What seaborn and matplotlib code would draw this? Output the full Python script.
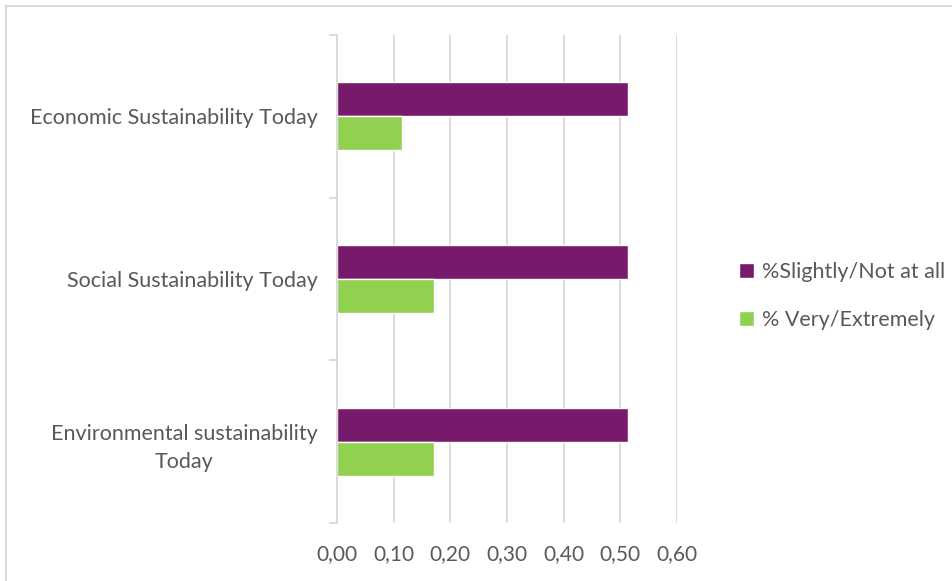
import matplotlib
matplotlib.use('Agg')
import matplotlib.pyplot as plt
import matplotlib.ticker as mticker
from matplotlib.patches import Rectangle
import pandas as pd
import seaborn as sns

categories = ['Economic Sustainability Today', 'Social Sustainability Today',
              'Environmental sustainability\nToday']
series = ['%Slightly/Not at all', '% Very/Extremely']
slightly = [0.514, 0.514, 0.514]
very = [0.114, 0.171, 0.171]
xticks = [0.0, 0.1, 0.2, 0.3, 0.4, 0.5, 0.6]

colors = {'%Slightly/Not at all': '#781A6B', '% Very/Extremely': '#92D050'}
TEXT = '#595959'
GRID = '#D9D9D9'

df = pd.DataFrame({
    'category': categories * 2,
    'series': [series[0]] * 3 + [series[1]] * 3,
    'value': slightly + very,
})

sns.set_theme(style='white')
plt.rcParams['font.family'] = ['Lato', 'DejaVu Sans']

fig = plt.figure(figsize=(9.52, 5.81), dpi=100)
ax = fig.add_axes([337 / 952, 1 - 523 / 581, (677 - 337) / 952, (523 - 35) / 581])

sns.barplot(data=df, y='category', x='value', hue='series', palette=colors,
            orient='h', width=0.42, ax=ax, saturation=1, legend=True)

ax.set_xlim(0, 0.6)
ax.set_ylim(2.5, -0.5)
ax.set_xticks(xticks)
ax.xaxis.set_major_formatter(mticker.FuncFormatter(lambda v, p: f'{v:.2f}'.replace('.', ',')))
ax.grid(axis='x', color=GRID, linewidth=1.3)
ax.set_axisbelow(True)
for s in ['top', 'right', 'bottom']:
    ax.spines[s].set_visible(False)
ax.spines['left'].set_color(GRID)
ax.spines['left'].set_linewidth(1.3)
ax.set_xlabel('')
ax.set_ylabel('')
ax.tick_params(axis='x', length=0, pad=15, labelsize=15, labelcolor=TEXT)
ax.tick_params(axis='y', length=0, pad=14, labelsize=15.5, labelcolor=TEXT)
for lab in ax.get_yticklabels():
    lab.set_horizontalalignment('right')
    lab.set_multialignment('center')
    lab.set_linespacing(1.55)
ax.set_yticks([-0.5, 0.5, 1.5, 2.5], minor=True)
ax.tick_params(axis='y', which='minor', length=6, width=1.3, color=GRID, left=True)

h, l = ax.get_legend_handles_labels()
ax.legend(h, l, loc='center left', bbox_to_anchor=(1.126, 0.465), frameon=False,
          fontsize=15.5, labelcolor=TEXT, handlelength=0.7, handleheight=0.7,
          handletextpad=0.35, labelspacing=1.3)

fig.patches.append(Rectangle((6 / 952, -0.1), 1.2, 1 - 6 / 581 + 0.1,
                             transform=fig.transFigure, fill=False,
                             edgecolor=GRID, linewidth=1.5))

fig.savefig('out.png', dpi=100)
